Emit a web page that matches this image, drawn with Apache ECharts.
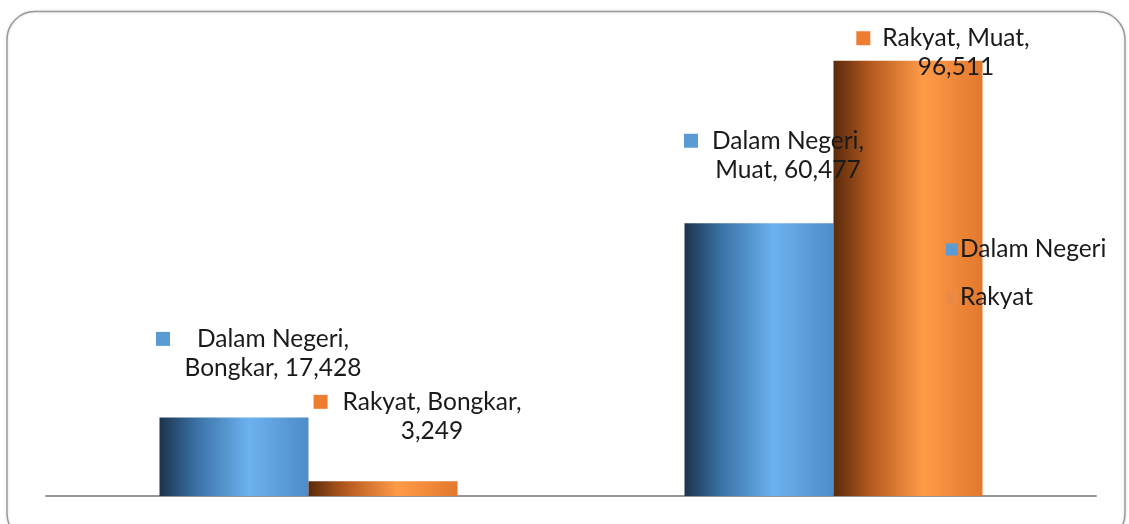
<!DOCTYPE html>
<html>
<head>
<meta charset="utf-8">
<script src="https://cdn.jsdelivr.net/npm/echarts@6/dist/echarts.min.js"></script>
<style>
html,body{margin:0;padding:0;background:#fff;}
#chart{width:1129px;height:524px;}
</style>
</head>
<body>
<div id="chart"></div>
<script>
const categories = ['Bongkar', 'Muat'];
const seriesNames = ['Dalam Negeri', 'Rakyat'];
const dalamNegeri = [17428, 60477];
const rakyat = [3249, 96511];

const FONT = 'Lato';
const FS = 24.5;
const fmt = v => v.toLocaleString('en-US');

const blueGrad = new echarts.graphic.LinearGradient(0, 0, 1, 0, [
  {offset: 0, color: '#1d334d'},
  {offset: 0.25, color: '#3a72a6'},
  {offset: 0.6, color: '#6cb2ef'},
  {offset: 1, color: '#4d8cc8'}
]);
const orangeGrad = new echarts.graphic.LinearGradient(0, 0, 1, 0, [
  {offset: 0, color: '#5a2a0c'},
  {offset: 0.25, color: '#b55a1f'},
  {offset: 0.6, color: '#ff9b48'},
  {offset: 1, color: '#e2782c'}
]);

function richFor(color, gap) {
  return {
    sq: {width: 14, height: 14, backgroundColor: color},
    g: {width: gap},
    pad: {width: 14 + gap},
    t: {fontFamily: FONT, fontSize: FS, color: '#1a1a1a', lineHeight: 29}
  };
}

// label placement offsets (layout only)
const dnOffsets = [[39, -30], [29, -34]];
const rkOffsets = [[49, -31], [48, 26]];
const dnGaps = [27, 14];
const rkGaps = [15, 12];

const dnData = dalamNegeri.map((v, i) => ({
  value: v,
  label: {
    offset: dnOffsets[i],
    formatter: `{sq|}{g|}{t|${seriesNames[0]},}{pad|}\n{t|${categories[i]}, ${fmt(v)}}`,
    rich: richFor('#5b9bd5', dnGaps[i])
  }
}));
const rkData = rakyat.map((v, i) => ({
  value: v,
  label: {
    offset: rkOffsets[i],
    formatter: `{sq|}{g|}{t|${seriesNames[1]}, ${categories[i]},}{pad|}\n{t|${fmt(v)}}`,
    rich: richFor('#ed7d31', rkGaps[i])
  }
}));

const chart = echarts.init(document.getElementById('chart'), null, {renderer: 'canvas'});
chart.setOption({
  backgroundColor: '#fff',
  animation: false,
  graphic: [{
    type: 'rect',
    shape: {x: 7, y: 11.5, width: 1118, height: 530, r: 28},
    style: {fill: 'none', stroke: '#9a9a9a', lineWidth: 1.5, shadowBlur: 3, shadowColor: 'rgba(0,0,0,0.15)'},
    z: 0
  }],
  grid: {left: 46, right: 33, top: 45, bottom: 28},
  legend: {
    orient: 'vertical',
    left: 941,
    top: 232,
    itemWidth: 12,
    itemHeight: 12,
    itemGap: 23,
    icon: 'rect',
    textStyle: {fontFamily: FONT, fontSize: FS, color: '#1a1a1a', padding: [0, 0, 0, -3]},
    data: [
      {name: seriesNames[0], itemStyle: {color: '#5b9bd5'}},
      {name: seriesNames[1], itemStyle: {color: '#e98a45'}}
    ]
  },
  xAxis: {
    type: 'category',
    data: categories,
    axisLine: {lineStyle: {color: '#969696', width: 2}},
    axisTick: {show: false},
    axisLabel: {show: false}
  },
  yAxis: {
    type: 'value',
    min: 0,
    max: 100000,
    show: false,
    splitLine: {show: false}
  },
  series: [
    {
      name: seriesNames[0],
      type: 'bar',
      barWidth: 149,
      barGap: '0%',
      itemStyle: {color: blueGrad},
      label: {show: true, position: 'top', align: 'center'},
      data: dnData
    },
    {
      name: seriesNames[1],
      type: 'bar',
      barWidth: 149,
      barGap: '0%',
      itemStyle: {color: orangeGrad},
      label: {show: true, position: 'top', align: 'center'},
      data: rkData
    }
  ]
});
</script>
</body>
</html>
